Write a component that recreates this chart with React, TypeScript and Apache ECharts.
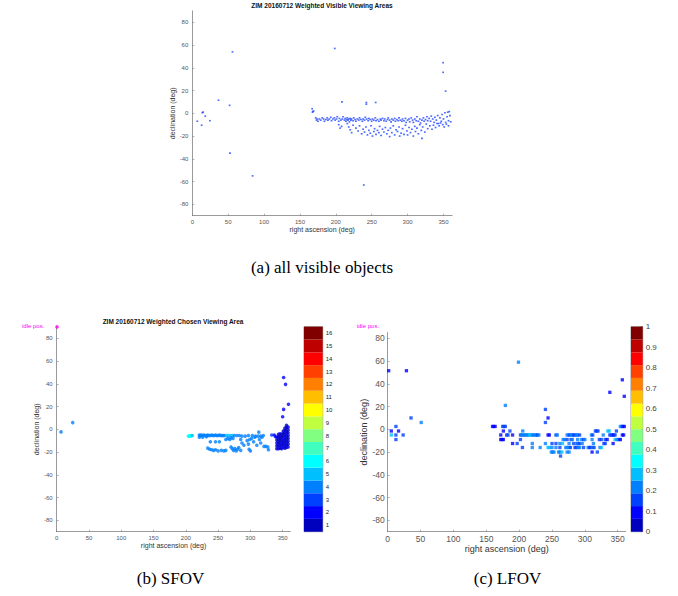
import React, { useEffect, useRef } from "react";
import * as echarts from "echarts";

// ---------- data ----------
const raTicks = [0, 50, 100, 150, 200, 250, 300, 350];
const decTicks = [-80, -60, -40, -20, 0, 20, 40, 60, 80];
const sfovBarLabels = ["1","2","3","4","5","6","7","8","9","10","11","12","13","14","15","16"];
const jet16 = ["#0000BF","#0000FF","#0040FF","#0080FF","#00BFFF","#00FFFF","#40FFBF","#80FF80","#BFFF40","#FFFF00","#FFBF00","#FF8000","#FF4000","#FF0000","#BF0000","#800000"];

// (a) all visible objects [ra, dec]
const visibleOutliers: number[][] = [
  [7,-7],[13,-10.5],[14,0.5],[15,1],[18,-2.5],[24.5,-6.5],[36.5,11.5],[52,7],[56,54],[52.5,-35],[84,-55],
  [198.5,57],[208.5,10],[242.5,8],[242.5,9.5],[255.5,9.5],[239,-63],[349.5,44.5],[349.5,36],[353,19.5],
  [320,-22],[167,4],[167.5,1],[169,2],[168,1.5]
];
const visibleUpperBand: number[][] = [
  [172,-4],[173,-6],[174,-5],[175,-7],[177,-5],[179,-6],[181,-4],[183,-5],[184,-7],[186,-5.5],[188,-4],[189,-6],
  [191,-5],[193,-3.5],[194,-6.5],[196,-5],[198,-4],[199,-6],[201,-5],[202,-3],[204,-7],[205,-4.5],[207,-6],[209,-5],
  [210,-3],[212,-6],[213,-4.5],[214,-7],[215,-5.5],[216,-4],[217,-6],[218,-5],[219,-7.5],[220,-4.5],[221,-6],[222,-5],
  [224,-6.5],[225,-4],[227,-5.5],[228,-7],[230,-5],[232,-6],[233,-4],[235,-5.5],[237,-7],[238,-5],[240,-6],[241,-3.5],
  [243,-5],[245,-6.5],[246,-4.5],[248,-5.5],[250,-7],[251,-5],[253,-6],[255,-4],[256,-6.5],[258,-5.5],[260,-7],[262,-5],
  [263,-6],[265,-4.5],[267,-6.5],[268,-5],[270,-7],[272,-5.5],[273,-4],[275,-6],[277,-7.5],[278,-5],[280,-6],[282,-4.5],
  [283,-7],[285,-5.5],[287,-6.5],[288,-4],[290,-6],[292,-7],[293,-5],[295,-6.5],[297,-4.5],[298,-8],[300,-6],[302,-5],
  [303,-7.5],[305,-4],[307,-6],[308,-8],[310,-5],[312,-6.5],[313,-3],[315,-7],[317,-5],[318,-8.5],[320,-6],[322,-4],
  [323,-7],[325,-5.5],[327,-3],[328,-6.5],[330,-4.5],[332,-7],[333,-2.5],[335,-5],[337,-8],[338,-3.5],[340,-6],[342,-2],
  [343,-9],[345,-4],[347,-7],[348,-1],[350,-5],[352,0.5],[353,-8],[355,-3],[356,1],[357,-6.5],[358,1.5],[359,-2],[360,-7.5]
];
const visibleLowerBand: number[][] = [
  [204,-10],[206,-13],[208,-11.5],[216,-9],[218,-12],[220,-14.5],[222,-17],[224,-10.5],[228,-13],[231,-15.5],[233,-11],
  [236,-18],[238,-14],[240,-16.5],[242,-12],[244,-19],[246,-15],[248,-17.5],[249,-11],[251,-20],[253,-16],[254,-13.5],
  [256,-18.5],[258,-15],[260,-17],[261,-11.5],[263,-19.5],[265,-14],[267,-16.5],[269,-12.5],[271,-18],[273,-15],
  [275,-20.5],[276,-13],[278,-17],[280,-11],[282,-19],[284,-14.5],[286,-16],[288,-12],[289,-20],[291,-17.5],[293,-13.5],
  [295,-18.5],[297,-10.5],[299,-15.5],[300,-19],[302,-12.5],[304,-17],[306,-14],[308,-20],[310,-11.5],[311,-16],[313,-13],
  [315,-18],[317,-10],[319,-15],[321,-12],[324,-16.5],[326,-9.5],[328,-13.5],[331,-11],[334,-14],[336,-10.5],[339,-12.5],
  [341,-9],[344,-11],[346,-8.5],[349,-10],[351,-12],[354,-9.5],[357,-11]
];

// (b) SFOV [ra, dec, weight]
const sfovIdle: number[][] = [[0.5, 90]];
const sfovPoints: number[][] = [
  [6.7,-2.3,4],[24.8,5.9,4],
  [204,-6,6],[205.5,-6,6],[207,-6,6],[208.5,-5.5,6],[210,-5.5,5],
  [221,-5,4],[222,-5.5,4],[224,-5,4],[226,-5.5,4],[228,-5,4],[230,-5.5,4],[232,-5.5,4],[234,-5,4],[236,-5.5,4],
  [238,-5.5,4],[240,-5,4],[242,-5.5,4],[244,-5.5,4],[246,-5,4],[248,-5.5,4],[250,-5.5,4],[252,-5,4],[254,-5.5,4],
  [256,-5.5,4],[258,-5.5,4],[260,-5.5,4],[263,-5.5,5],[266,-5.5,5],[269,-5.5,5],[272,-5.5,5],[275,-5.5,4],[279,-5.5,4],
  [283,-5.5,4],[287,-6,4],[292,-6,4],[297,-5.5,4],[303,-5.5,4],[308,-6,4],[312,-6,4],[316,-6,4],[320,-5.5,4],
  [221,-7,4],[226,-7,4],[232,-6.5,4],
  [238,-11,4],[246,-11,4],[252,-11,4],[262,-9,4],[265,-8,4],[268,-9,4],[270,-7.5,4],[273,-8,4],[285,-9,4],[287,-12,4],
  [290,-14,4],[295,-10,4],[297,-13,4],[299,-9,4],[302,-8,4],[305,-11,4],[307,-7,4],[310,-14,4],[313,-2.5,4],[314,-9,4],
  [316,-12,4],[318,-7,4],[321,-15,4],[324,-15,4],[327,-15.5,4],
  [234,-16.5,4],[237,-17.5,4],[240,-18,4],[243,-18.5,4],[246,-18,4],[250,-19,4],[255,-18.5,4],[259,-19,4],[262,-18.5,4],
  [270,-15.5,4],[272,-17,4],[274,-18.5,4],[276,-17,4],[278,-19,4],[280,-17.5,4],[282,-16,4],[285,-18.5,4],[298,-17.5,4],
  [300,-19,4],[328,-18,4],
  [333,-5,3],[337,-5,2],[339,-6.5,2],
  [351.5,45.5,2],[354.5,39.5,2],[359,22,2],[351.5,17.5,2],[350,11,2],
  [341,-17,1],[343.5,-17,2],[346,-16.5,1],[348.5,-17,1],[351,-16,2],[353.5,-16.5,1],[356,-16,1],[358.5,-15.5,2],
  [341,-14.5,1],[343.5,-14,1],[346,-14.5,2],[348.5,-14,1],[351,-13.5,1],[353.5,-14,2],[356,-13.5,1],[358.5,-13,1],
  [341,-12,2],[343.5,-11.5,1],[346,-12,1],[348.5,-11.5,2],[351,-11,1],[353.5,-11.5,1],[356,-11,2],[358.5,-10.5,1],
  [341,-9.5,1],[343.5,-9,1],[346,-9.5,1],[348.5,-9,1],[351,-8.5,2],[353.5,-9,1],[356,-8.5,1],[358.5,-8,1],
  [341,-7,2],[343.5,-6.5,1],[346,-7,1],[348.5,-6.5,1],[351,-6,1],[353.5,-6.5,2],[356,-6,1],[358.5,-5.5,1],
  [343.5,-4.5,1],[346,-4,2],[348.5,-4.5,1],[351,-3.5,1],[353.5,-4,1],[356,-3.5,2],[358.5,-3,1],
  [351,-1.5,1],[353.5,-1,2],[356,-1.5,1],[358.5,-0.5,1],[353.5,1,1],[356,1.5,1],[358.5,2,2],[356,3.5,1]
];

// (c) LFOV [ra, dec, weight]
const lfovPoints: number[][] = [
  [1.5,51.5,0.1],[28.5,51.5,0.1],[35.5,10,0.15],[51,6,0.2],[5.5,-1.5,0.1],[5.5,-5,0.28],[12.5,2.5,0.15],[12.5,-5,0.15],
  [12.5,-9,0.15],[16.5,-1.5,0.1],[23.5,-5,0.15],
  [199,59,0.22],[179,21,0.2],[240,17.5,0.17],[244,10,0.1],[240,6,0.15],[338,32.5,0.1],[357,43.5,0.1],[360,29,0.1],
  [159.5,2.5,0.1],[161.5,2.5,0.1],[163.5,2.5,0.1],[175,2.5,0.17],[177,2.5,0.17],[179,2.5,0.17],[354,2.5,0.2],
  [356,2.5,0.22],[358,2.5,0.1],[360,2.5,0.1],
  [176,-1.5,0.1],[186,-1.5,0.15],[205.5,-1.5,0.2],[316,-1.5,0.15],[318,-1.5,0.15],[320,-1.5,0.15],[335,-1.5,0.25],
  [337,-1.5,0.25],[348,-1.5,0.17],
  [172,-5,0.1],[181,-5,0.15],[183,-5,0.15],[190,-5,0.1],[202,-5,0.15],[204,-5,0.2],[206,-5,0.2],[208,-5,0.2],[210,-5,0.2],
  [212,-5,0.22],[214,-5,0.22],[216,-5,0.28],[218,-5,0.25],[220,-5,0.22],[222,-5,0.2],[224,-5,0.2],[226,-5,0.2],
  [228,-5,0.15],[230,-5,0.2],[244,-5,0.1],[246,-5,0.1],[256,-5,0.15],[258,-5,0.2],[273,-5,0.2],[275,-5,0.2],[277,-5,0.15],
  [279,-5,0.2],[281,-5,0.2],[283,-5,0.15],[285,-5,0.15],[287,-5,0.2],[289,-5,0.2],[292,-5,0.15],[310,-5,0.2],
  [312,-5,0.15],[328,-5,0.2],[338,-5,0.15],[340,-5,0.15],[342,-5,0.15],[344,-5,0.1],[346,-5,0.15],[357,-5,0.1],[359,-5,0.1],
  [172,-9,0.1],[174,-9,0.1],[176,-9,0.1],[202,-9,0.15],[267,-9,0.2],[269,-9,0.2],[273,-9,0.15],[279,-9,0.15],[281,-9,0.2],
  [289,-9,0.2],[295,-9,0.2],[298,-9,0.15],[300,-9,0.2],[311,-9,0.22],[322,-9,0.15],[325,-9,0.15],[331,-9,0.15],
  [334,-9,0.1],[346,-9,0.25],[349,-9,0.22],[352,-9,0.15],[354,-9,0.1],
  [190,-12.5,0.1],[197,-12.5,0.15],[220,-12.5,0.2],[240,-12.5,0.2],[250,-12.5,0.15],[256,-12.5,0.15],[262,-12.5,0.2],
  [266,-12.5,0.25],[276,-12.5,0.2],[283,-12.5,0.15],[288,-12.5,0.15],[290,-12.5,0.2],[292,-12.5,0.15],[296,-12.5,0.2],
  [313,-12.5,0.2],[329,-12.5,0.15],[331,-12.5,0.15],[343,-12.5,0.1],
  [205,-16,0.15],[220,-16,0.2],[232,-16,0.2],[244,-16,0.3],[246,-16,0.3],[250,-16,0.2],[256,-16,0.2],[262,-16,0.15],
  [271,-16,0.2],[273,-16,0.2],[276,-16,0.2],[278,-16,0.15],[285,-16,0.15],[287,-16,0.15],[290,-16,0.2],[292,-16,0.2],
  [298,-16,0.15],[305,-16,0.2],[307,-16,0.15],[309,-16,0.15],[312,-16,0.2],[314,-16,0.15],[323,-16,0.2],[325,-16,0.25],
  [249,-20,0.2],[251,-20,0.2],[253,-20,0.2],[260,-20,0.2],[262,-20,0.2],[265,-20,0.3],[273,-20,0.2],[276,-20,0.2],
  [311,-20,0.1],[319,-20,0.15],
  [263,-23.5,0.15]
];

const FONT = "Liberation Sans";

function valueAxis(gridIndex: number, min: number, max: number, ticks: number[], fs: number, name: string, nameGap: number, nameFs: number, isY: boolean, margin: number) {
  return {
    type: "value",
    gridIndex,
    min,
    max,
    name,
    nameLocation: "middle",
    nameGap,
    nameRotate: isY ? 90 : 0,
    nameTextStyle: { fontSize: nameFs, color: "#333", fontFamily: FONT },
    axisLine: { show: true, onZero: false, lineStyle: { color: "#808080", width: 0.8 } },
    axisTick: { show: true, inside: true, length: 2, customValues: ticks, lineStyle: { color: "#808080", width: 0.6 } },
    axisLabel: { show: true, customValues: ticks, fontSize: fs, color: "#555", fontFamily: FONT, margin },
    splitLine: { show: false },
  };
}

export default function App() {
  const ref = useRef<HTMLDivElement>(null);
  useEffect(() => {
    if (!ref.current) return;
    const chart = echarts.init(ref.current, null, { renderer: "svg", width: 678, height: 596 });

    const cbSeries = jet16.map((c, i) => ({
      type: "bar",
      xAxisIndex: 4,
      yAxisIndex: 4,
      stack: "cb",
      barWidth: "100%",
      data: [{ value: 1 / 16, itemStyle: { color: c } }],
      silent: true,
    }));

    const option: any = {
      animation: false,
      backgroundColor: "#ffffff",
      grid: [
        { left: 192.3, top: 10.9, width: 259.8, height: 204.8 },
        { left: 56.7, top: 326.9, width: 233.7, height: 204.8 },
        { left: 387.7, top: 332.6, width: 237.9, height: 199.1 },
        { left: 304, top: 326.7, width: 18.7, height: 205, show: true, borderColor: "#555", borderWidth: 0.6 },
        { left: 631, top: 326.7, width: 11.7, height: 205, show: true, borderColor: "#555", borderWidth: 0.6 },
      ],
      xAxis: [
        valueAxis(0, 0, 362, raTicks, 6, "right ascension (deg)", 9, 7, false, 3),
        valueAxis(1, 0, 362, raTicks, 6, "right ascension (deg)", 10, 7, false, 3),
        valueAxis(2, 0, 362, raTicks, 8.5, "right ascension (deg)", 13, 9, false, 3),
        { type: "value", gridIndex: 3, min: 0, max: 1, show: false },
        { type: "category", gridIndex: 4, data: ["c"], show: false },
      ],
      yAxis: [
        valueAxis(0, -90, 90, decTicks, 6, "declination (deg)", 14, 7, true, 4),
        valueAxis(1, -90, 90, decTicks, 6, "declination (deg)", 13, 7, true, 4),
        valueAxis(2, -90, 85, decTicks, 8.5, "declination (deg)", 16, 9, true, 3),
        {
          type: "category",
          gridIndex: 3,
          position: "right",
          data: sfovBarLabels,
          axisLine: { show: false },
          axisTick: { show: false },
          axisLabel: { fontSize: 6, color: "#222", fontFamily: FONT, margin: 3 },
        },
        {
          type: "value",
          gridIndex: 4,
          position: "right",
          min: 0,
          max: 1,
          interval: 0.1,
          axisLine: { show: false },
          axisTick: { show: true, inside: true, length: 2, lineStyle: { color: "#555", width: 0.5 } },
          axisLabel: {
            fontSize: 8,
            color: "#444",
            fontFamily: FONT,
            margin: 3,
            formatter: (v: number) => (Math.abs(v) < 1e-9 ? "0" : Math.abs(v - 1) < 1e-9 ? "1" : v.toFixed(1)),
          },
          splitLine: { show: false },
        },
      ],
      visualMap: [
        {
          type: "piecewise",
          show: false,
          seriesIndex: 1,
          dimension: 2,
          pieces: jet16.map((c, i) => ({ gte: i + 0.5, lt: i + 1.5, color: c })),
        },
        {
          type: "piecewise",
          show: false,
          seriesIndex: 3,
          dimension: 2,
          pieces: jet16.map((c, i) => (i === 15 ? { gte: i / 16, lte: 1, color: c } : { gte: i / 16, lt: (i + 1) / 16, color: c })),
        },
      ],
      series: [
        {
          type: "scatter",
          xAxisIndex: 0,
          yAxisIndex: 0,
          symbol: "rect",
          symbolSize: [1.8, 1.6],
          itemStyle: { color: "#1f45ff" },
          data: [...visibleOutliers, ...visibleUpperBand, ...visibleLowerBand],
          clip: false,
        },
        {
          type: "scatter",
          xAxisIndex: 1,
          yAxisIndex: 1,
          symbol: "circle",
          symbolSize: 3.6,
          data: sfovPoints,
          clip: false,
        },
        {
          type: "scatter",
          xAxisIndex: 1,
          yAxisIndex: 1,
          symbol: "circle",
          symbolSize: 3.6,
          itemStyle: { color: "#ff00ff" },
          data: sfovIdle,
          clip: false,
        },
        {
          type: "scatter",
          xAxisIndex: 2,
          yAxisIndex: 2,
          symbol: "rect",
          symbolSize: 3.3,
          data: lfovPoints,
          clip: false,
        },
        {
          type: "bar",
          xAxisIndex: 3,
          yAxisIndex: 3,
          barWidth: "100%",
          barCategoryGap: "0%",
          data: jet16.map((c) => ({ value: 1, itemStyle: { color: c } })),
          silent: true,
        },
        ...cbSeries,
      ],
      graphic: [
        { type: "text", x: 322, y: 5.3, style: { text: "ZIM 20160712 Weighted Visible Viewing Areas", fontSize: 6.5, fontWeight: "bold", fontFamily: FONT, fill: "#111", textAlign: "center", textVerticalAlign: "middle" } },
        { type: "text", x: 173, y: 321, style: { text: "ZIM 20160712 Weighted Chosen Viewing Area", fontSize: 6.5, fontWeight: "bold", fontFamily: FONT, fill: "#111", textAlign: "center", textVerticalAlign: "middle" } },
        { type: "text", x: 22, y: 325.7, style: { text: "idle pos.", fontSize: 6, fontFamily: FONT, fill: "#ff00ff", textAlign: "left", textVerticalAlign: "middle" } },
        { type: "text", x: 356.7, y: 325.7, style: { text: "idle pos.", fontSize: 6, fontFamily: FONT, fill: "#ff00ff", textAlign: "left", textVerticalAlign: "middle" } },
        { type: "text", x: 322, y: 267, style: { text: "(a) all visible objects", fontSize: 17, fontFamily: "Liberation Serif", fill: "#000", textAlign: "center", textVerticalAlign: "middle" } },
        { type: "text", x: 170.5, y: 578, style: { text: "(b) SFOV", fontSize: 17, fontFamily: "Liberation Serif", fill: "#000", textAlign: "center", textVerticalAlign: "middle" } },
        { type: "text", x: 507.5, y: 578, style: { text: "(c) LFOV", fontSize: 17, fontFamily: "Liberation Serif", fill: "#000", textAlign: "center", textVerticalAlign: "middle" } },
      ],
    };
    chart.setOption(option);
    return () => chart.dispose();
  }, []);
  return (
    <div
      ref={ref}
      style={{ position: "absolute", left: 0, top: 0, width: 678, height: 596, background: "#fff" }}
    />
  );
}
